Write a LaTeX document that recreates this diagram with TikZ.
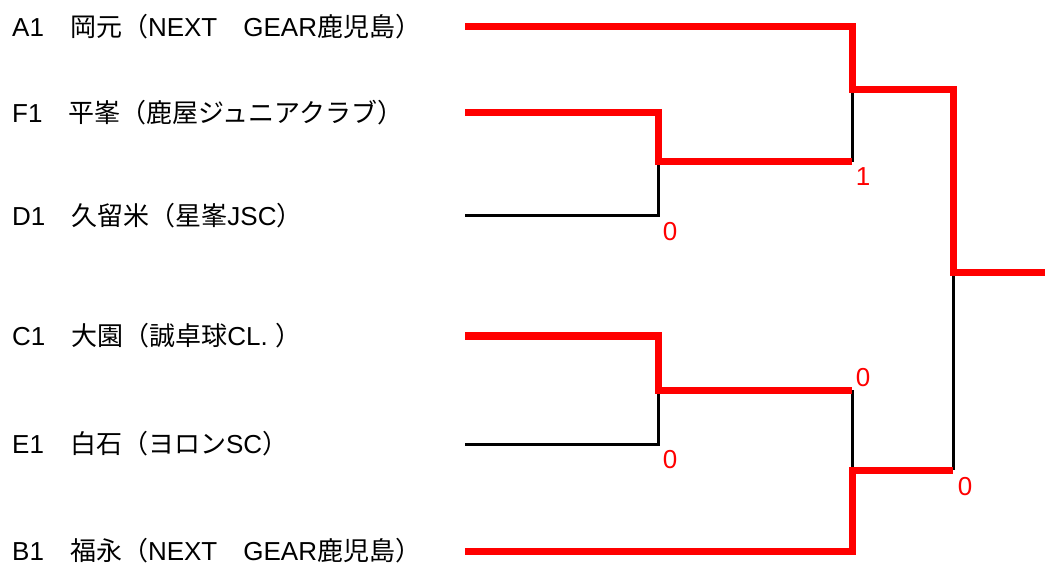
\documentclass[tikz,border=0pt]{standalone}
\usepackage{fontspec}
\setmainfont{Liberation Sans}
\newfontfamily\jpfont{Noto Sans CJK JP}
\newcommand{\jp}[1]{{\jpfont #1}}
\usetikzlibrary{calc}
\tikzstyle{team}=[anchor=west,inner sep=0pt,font=\fontsize{26}{26}\selectfont]
\tikzstyle{score}=[text=red,inner sep=0pt,font=\fontsize{26}{26}\selectfont]
\tikzstyle{winedge} = [draw,red,line width=7pt]
\tikzstyle{loseedge} = [draw,line width=3pt]

\begin{document}
\begin{tikzpicture}[x=1pt,y=-1pt]
\useasboundingbox (0,0) rectangle (1045,564);

    % teams and the start of their lines
    \foreach \y/\name/\label in {27/a1/{A1\jp{　岡元（}NEXT\jp{　}GEAR\jp{鹿児島）}},
        113/f1/{F1\jp{　平峯（鹿屋ジュニアクラブ）}},
        216/d1/{D1\jp{　久留米（星峯}JSC\jp{）}},
        336/c1/{C1\jp{　大園（誠卓球}CL.\ \jp{）}},
        444/e1/{E1\jp{　白石（ヨロン}SC\jp{）}},
        551/b1/{B1\jp{　福永（}NEXT\jp{　}GEAR\jp{鹿児島）}}}
    {
        \node[team] (\name) at (12,\y) {\label};
        \coordinate (\name-end) at (465,\y);
    }

    % bracket points
    \coordinate (s1) at (658,162);
    \coordinate (s1r) at (852,162);
    \coordinate (s2) at (658,390);
    \coordinate (s2r) at (852,390);
    \coordinate (q1) at (852,90);
    \coordinate (q2) at (852,470);
    \coordinate (q2r) at (953,470);
    \coordinate (fin) at (953,273);
    \coordinate (champ) at (1045,273);

    % losers
    \path[loseedge] (d1-end) -| (s1);
    \path[loseedge] (e1-end) -| (s2);
    \path[loseedge] (s1r) -- (q1);
    \path[loseedge] (s2r) -- (q2);
    \path[loseedge] (q2r) -- (fin);

    % winners
    \path[winedge] (f1-end) -| (s1) -- (s1r);
    \path[winedge] (c1-end) -| (s2) -- (s2r);
    \path[winedge] (b1-end) -| (q2) -- (q2r);
    \path[winedge] (a1-end) -| (q1) -| (fin) -- (champ);

    % scores
    \node[score] (sc1) at (863,177) {1};
    \node[score] (sc2) at (670,232) {0};
    \node[score] (sc3) at (863,378) {0};
    \node[score] (sc4) at (670,460) {0};
    \node[score] (sc5) at (965,487) {0};

\end{tikzpicture}
\end{document}
